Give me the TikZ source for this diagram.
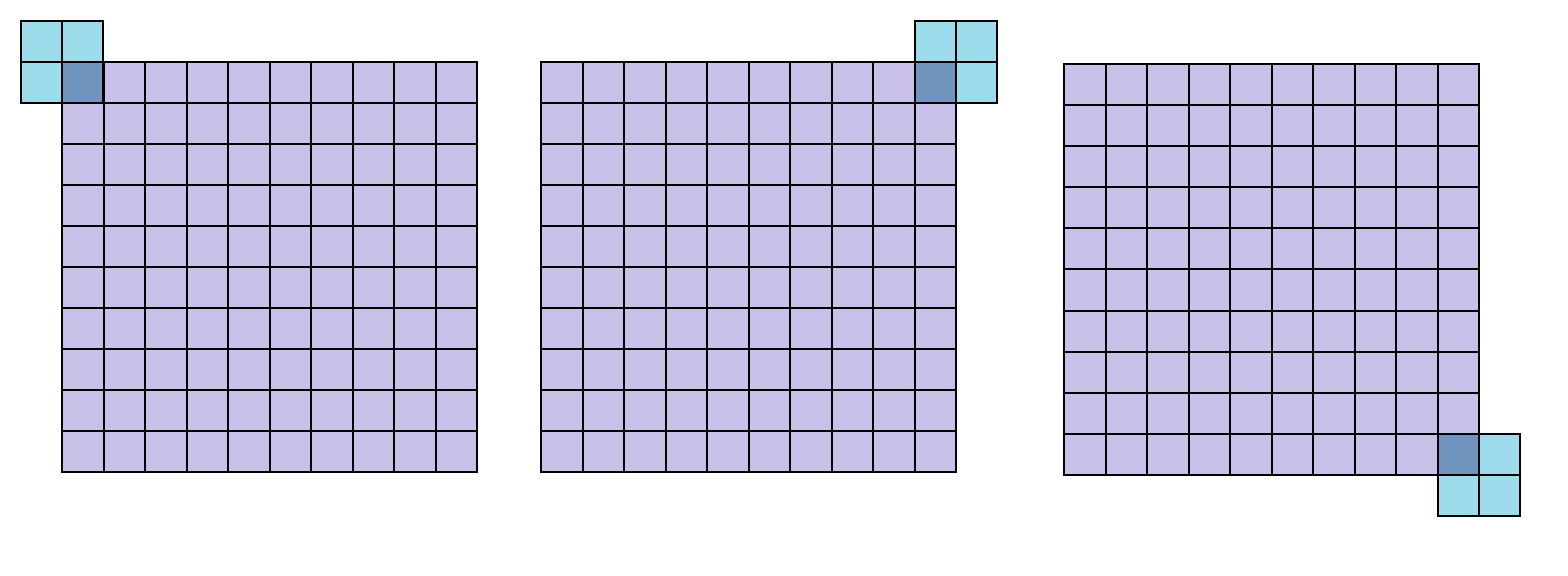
\documentclass[tikz,border=0pt]{standalone}
\definecolor{gridfill}{RGB}{200,192,230}
\definecolor{kfill}{RGB}{157,220,235}
\definecolor{ofill}{RGB}{113,148,191}
\begin{document}
\begin{tikzpicture}[x=0.5pt,y=-0.5pt,
  cellbox/.style={fill=gridfill,draw=black,line width=1pt},
  kbox/.style={fill=kfill,draw=black,line width=1pt},
  obox/.style={fill=ofill,draw=black,line width=1pt},
  outer/.style={draw=black,line width=1.1pt}]
\useasboundingbox (0,0) rectangle (1568,576);
% grid 1
\foreach \i in {0,...,9}{\foreach \j in {0,...,9}{
  \draw[cellbox] ({62+41.5*\i},{62+41*\j}) rectangle ++(41.5,41);}}
\draw[outer] (62,62) rectangle (477,472);
% grid 2
\foreach \i in {0,...,9}{\foreach \j in {0,...,9}{
  \draw[cellbox] ({541+41.5*\i},{62+41*\j}) rectangle ++(41.5,41);}}
\draw[outer] (541,62) rectangle (956,472);
% grid 3
\foreach \i in {0,...,9}{\foreach \j in {0,...,9}{
  \draw[cellbox] ({1064+41.5*\i},{64+41.1*\j}) rectangle ++(41.5,41.1);}}
\draw[outer] (1064,64) rectangle (1479,475);
% kernel 1 (top-left)
\draw[kbox] (21,21) rectangle (62,62);
\draw[kbox] (62,21) rectangle (103,62);
\draw[kbox] (21,62) rectangle (62,103);
\draw[obox] (62,62) rectangle (103.5,103);
\draw[outer] (21,21) rectangle (103,103);
% kernel 2 (top-right)
\draw[kbox] (915,21) rectangle (956,62);
\draw[kbox] (956,21) rectangle (997,62);
\draw[kbox] (956,62) rectangle (997,103);
\draw[obox] (914.5,62) rectangle (956,103);
\draw[outer] (915,21) rectangle (997,103);
% kernel 3 (bottom-right)
\draw[obox] (1437.5,434) rectangle (1479,475);
\draw[kbox] (1479,434) rectangle (1520,475);
\draw[kbox] (1438,475) rectangle (1479,516);
\draw[kbox] (1479,475) rectangle (1520,516);
\draw[outer] (1438,434) rectangle (1520,516);
\end{tikzpicture}
\end{document}
